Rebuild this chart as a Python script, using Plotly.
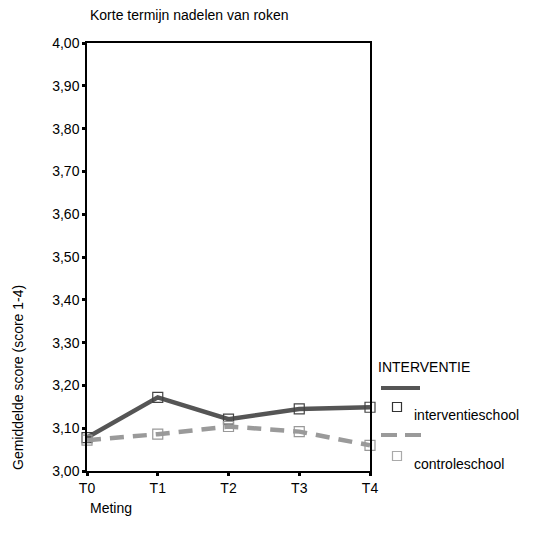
import plotly.graph_objects as go

categories = ["T0", "T1", "T2", "T3", "T4"]
interventie = [3.078, 3.172, 3.121, 3.145, 3.149]
controle = [3.072, 3.086, 3.104, 3.092, 3.060]
y_ticks = [3.0, 3.1, 3.2, 3.3, 3.4, 3.5, 3.6, 3.7, 3.8, 3.9, 4.0]
y_ticklabels = ["3,00", "3,10", "3,20", "3,30", "3,40", "3,50", "3,60", "3,70", "3,80", "3,90", "4,00"]

FONT = "Liberation Sans, Arial, sans-serif"
FS = 14
DARK = "#555555"
LIGHT = "#9a9a9a"

OFF = 8  # page body margin
W, H = 536 - OFF, 547 - OFF
L, T = 87 - OFF, 43 - OFF
R = W - (370 - OFF)
B = H - (471 - OFF)
PW, PH = W - L - R, H - T - B

xs = list(range(len(categories)))

fig = go.Figure()
fig.add_trace(go.Scatter(x=xs, y=interventie, mode="lines+markers",
                         line=dict(color=DARK, width=4.5),
                         marker=dict(symbol="square-open", size=10, color="#444444", line=dict(width=1.2)),
                         showlegend=False, cliponaxis=False))
fig.add_trace(go.Scatter(x=xs, y=controle, mode="lines+markers",
                         line=dict(color=LIGHT, width=4.5, dash="14px,9px"),
                         marker=dict(symbol="square-open", size=10, color="#999999", line=dict(width=1.2)),
                         showlegend=False, cliponaxis=False))

fig.update_layout(
    width=W, height=H,
    margin=dict(l=L, r=R, t=T, b=B),
    paper_bgcolor="white", plot_bgcolor="white",
    font=dict(family=FONT, size=FS, color="black"),
    xaxis=dict(range=[0, 4], tickvals=xs, ticktext=categories, showgrid=False, zeroline=False,
               showline=True, linecolor="black", linewidth=1.5, mirror=True,
               ticks="outside", ticklen=3, tickwidth=3, tickcolor="black",
               tickfont=dict(size=FS, family=FONT)),
    yaxis=dict(range=[3.0, 4.0], tickvals=y_ticks, ticktext=y_ticklabels, showgrid=False, zeroline=False,
               showline=True, linecolor="black", linewidth=1.5, mirror=True,
               ticks="outside", ticklen=3, tickwidth=3, tickcolor="black",
               tickfont=dict(size=FS, family=FONT)),
)

def px(x, y):
    # screen pixel -> paper coords
    return (x - OFF - L) / PW, (H - B - (y - OFF)) / PH

anns = [
    dict(text="Korte termijn nadelen van roken", x=88, y=15),
    dict(text="Meting", x=88, y=508),
    dict(text="INTERVENTIE", x=376, y=367),
    dict(text="interventieschool", x=412, y=415),
    dict(text="controleschool", x=412, y=464),
]
for a in anns:
    ax, ay = px(a["x"], a["y"])
    fig.add_annotation(text=a["text"], x=ax, y=ay, xref="paper", yref="paper",
                       xanchor="left", yanchor="middle", showarrow=False,
                       font=dict(size=FS, family=FONT, color="black"))
ax, ay = px(18, 378)
fig.add_annotation(text="Gemiddelde score (score 1-4)", x=ax, y=ay, xref="paper", yref="paper",
                   xanchor="center", yanchor="middle", showarrow=False, textangle=-90,
                   font=dict(size=FS, family=FONT, color="black"))

# legend samples
x0, y0 = px(381, 388); x1, _ = px(420, 388)
fig.add_shape(type="line", xref="paper", yref="paper", x0=x0, x1=x1, y0=y0, y1=y0, line=dict(color=DARK, width=4))
x0, y0 = px(381, 435); x1, _ = px(421, 435)
fig.add_shape(type="line", xref="paper", yref="paper", x0=x0, x1=x1, y0=y0, y1=y0,
              line=dict(color=LIGHT, width=4, dash="16px,8px"))
for (cx, cy, col) in [(397, 407, "#333333"), (397, 456, "#aaaaaa")]:
    a0, b0 = px(cx - 4.5, cy - 4.5); a1, b1 = px(cx + 4.5, cy + 4.5)
    fig.add_shape(type="rect", xref="paper", yref="paper", x0=a0, x1=a1, y0=b0, y1=b1,
                  line=dict(color=col, width=1.2), fillcolor="white")

fig.write_html("out.html")
